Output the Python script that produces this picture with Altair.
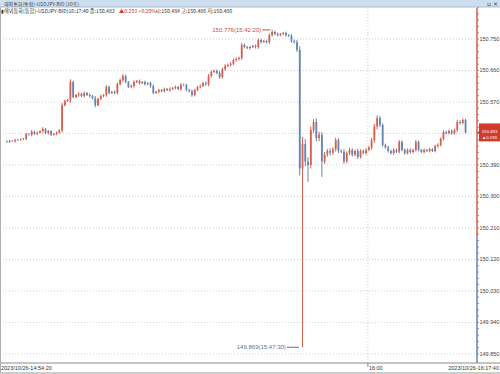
import altair as alt
import pandas as pd

# ---------------- data ----------------
CANDLE_SECONDS = list(range(20, 5001, 30))  # seconds after 14:54:20
CLOSES = [
    150.456, 150.459, 150.458, 150.461, 150.462, 150.463, 150.465, 150.478, 150.477, 150.485,
    150.479, 150.482, 150.487, 150.493, 150.481, 150.486, 150.476, 150.479, 150.482, 150.489,
    150.561, 150.573, 150.576, 150.627, 150.584, 150.590, 150.593, 150.587, 150.596, 150.590,
    150.587, 150.581, 150.561, 150.579, 150.587, 150.590, 150.613, 150.596, 150.599, 150.596,
    150.621, 150.633, 150.644, 150.627, 150.613, 150.616, 150.627, 150.630, 150.624, 150.627,
    150.621, 150.624, 150.616, 150.596, 150.599, 150.604, 150.601, 150.607, 150.604, 150.607,
    150.610, 150.613, 150.607, 150.619, 150.619, 150.604, 150.601, 150.590, 150.604, 150.613,
    150.616, 150.624, 150.621, 150.644, 150.656, 150.659, 150.653, 150.641, 150.664, 150.673,
    150.676, 150.679, 150.690, 150.693, 150.696, 150.733, 150.727, 150.724, 150.727, 150.730,
    150.727, 150.747, 150.741, 150.744, 150.741, 150.761, 150.770, 150.764, 150.761, 150.764,
    150.767, 150.761, 150.759, 150.744, 150.741, 150.719, 150.380, 150.450, 150.400, 150.390,
    150.490, 150.513, 150.467, 150.476, 150.400, 150.420, 150.430, 150.425, 150.435, 150.461,
    150.430, 150.428, 150.400, 150.424, 150.433, 150.419, 150.430, 150.413, 150.430, 150.424,
    150.433, 150.440, 150.461, 150.500, 150.524, 150.504, 150.447, 150.440, 150.430, 150.424,
    150.433, 150.428, 150.456, 150.433, 150.424, 150.433, 150.427, 150.433, 150.456, 150.433,
    150.427, 150.433, 150.430, 150.435, 150.430, 150.444, 150.447, 150.465, 150.484, 150.481,
    150.487, 150.481, 150.490, 150.513, 150.510, 150.519, 150.483,
]
FIRST_OPEN = 150.458
# estimated wick length beyond the candle body, per candle
WICKS = [
    0.002, 0.003, 0.002, 0.004, 0.002, 0.003, 0.002, 0.004, 0.003, 0.005,
    0.003, 0.004, 0.002, 0.005, 0.003, 0.004, 0.003, 0.002, 0.004, 0.003,
    0.006, 0.004, 0.003, 0.008, 0.004, 0.003, 0.005, 0.003, 0.004, 0.003,
    0.005, 0.004, 0.006, 0.003, 0.004, 0.003, 0.005, 0.004, 0.003, 0.004,
    0.005, 0.004, 0.006, 0.004, 0.003, 0.004, 0.005, 0.003, 0.004, 0.003,
    0.004, 0.003, 0.005, 0.004, 0.003, 0.004, 0.003, 0.004, 0.003, 0.005,
    0.003, 0.004, 0.003, 0.005, 0.004, 0.003, 0.004, 0.005, 0.004, 0.003,
    0.004, 0.003, 0.005, 0.006, 0.004, 0.003, 0.004, 0.005, 0.004, 0.005,
    0.004, 0.005, 0.004, 0.005, 0.004, 0.006, 0.004, 0.003, 0.004, 0.003,
    0.004, 0.005, 0.004, 0.003, 0.004, 0.005, 0.004, 0.003, 0.004, 0.003,
    0.003, 0.004, 0.003, 0.005, 0.004, 0.006, 0.010, 0.012, 0.014, 0.012,
    0.010, 0.008, 0.010, 0.009, 0.008, 0.007, 0.006, 0.008, 0.006, 0.007,
    0.006, 0.005, 0.007, 0.005, 0.006, 0.005, 0.004, 0.006, 0.005, 0.004,
    0.005, 0.004, 0.006, 0.007, 0.008, 0.006, 0.005, 0.004, 0.005, 0.004,
    0.005, 0.004, 0.005, 0.004, 0.005, 0.004, 0.005, 0.004, 0.005, 0.004,
    0.003, 0.004, 0.003, 0.004, 0.003, 0.004, 0.005, 0.004, 0.005, 0.004,
    0.004, 0.005, 0.004, 0.006, 0.005, 0.004, 0.003,
]
HIGH_OVERRIDES = {96: 150.776, 107: 150.470, 110: 150.500}
LOW_OVERRIDES = {106: 150.360, 107: 149.869, 109: 150.341, 114: 150.356}

PREV_CLOSE = 150.190
LAST_PRICE = 150.483
Y_MAJOR = [149.85, 149.94, 150.03, 150.12, 150.21, 150.30, 150.39, 150.48, 150.57, 150.66, 150.75]
Y_LABELED = [149.85, 149.94, 150.03, 150.12, 150.21, 150.30, 150.39, 150.57, 150.66, 150.75]
Y_MINOR = [round(149.85 + 0.018 * k, 3) for k in range(0, 56)]
Y_DOMAIN = [149.824, 150.8386]
X_DOMAIN = [0, 5070]
T_1600 = 3940
MAX_T, MAX_V, MAX_LABEL = 2880, 150.776, "150.776(15:42:20)"
MIN_T, MIN_V, MIN_LABEL = 3190, 149.869, "149.869(15:47:30)"
X_LABEL_START = "2023/10/26-14:54:20"
X_LABEL_MID = "16:00"
X_LABEL_END = "2023/10/26-16:17:40"
WINDOW_TITLE = "해외통화(통합)-USDJPY-BID (10초)"
INFO_1 = "▮해외통화(통합)-USDJPY-BID)16:17:40 종:150.483"
INFO_2 = "▲0.293  +0.20%"
INFO_3 = "시:150.484 고:150.486 저:150.480"
PRICE_BOX = ["150.483", "▲0.293", "+0.20%"]

RED = "#d4604e"
BLUE = "#6585b0"
W, H = 477, 355
FONT = "Liberation Sans"
KFONT = "Noto Sans CJK KR"

rows = []
prev = FIRST_OPEN
for i, (t, c, w) in enumerate(zip(CANDLE_SECONDS, CLOSES, WICKS)):
    o = prev
    hi = HIGH_OVERRIDES.get(i, max(o, c) + w)
    lo = LOW_OVERRIDES.get(i, min(o, c) - w)
    rows.append({"t": t, "open": o, "close": c, "high": hi, "low": lo,
                 "dir": "up" if c >= o else "down"})
    prev = c
df = pd.DataFrame(rows)

xs = alt.Scale(domain=X_DOMAIN, nice=False, zero=False)
ys = alt.Scale(domain=Y_DOMAIN, nice=False, zero=False)
cs = alt.Scale(domain=["up", "down"], range=[RED, BLUE])

grid = alt.Chart(pd.DataFrame({"v": Y_MAJOR})).mark_rule(
    color="#cfcfcf", strokeDash=[1, 2], strokeWidth=1
).encode(y=alt.Y("v:Q", scale=ys, axis=None), x=alt.value(0), x2=alt.value(W))

ylabels = alt.Chart(pd.DataFrame({"v": Y_LABELED})).mark_text(
    align="left", baseline="middle", font=FONT, fontSize=5.5, color="#444"
).encode(y=alt.Y("v:Q", scale=ys, axis=None), x=alt.value(W + 2.5),
         text=alt.Text("v:Q", format=".3f"))

minor = alt.Chart(pd.DataFrame({"v": Y_MINOR})).mark_rule(
    color="#9a9a9a", strokeWidth=1
).encode(y=alt.Y("v:Q", scale=ys, axis=None), x=alt.value(W), x2=alt.value(W + 2))

vgrid = alt.Chart(pd.DataFrame({"t": [T_1600]})).mark_rule(
    color="#cfcfcf", strokeDash=[1, 2]
).encode(x=alt.X("t:Q", scale=xs, axis=None), y=alt.value(0), y2=alt.value(H))

wicks = alt.Chart(df).mark_rule(strokeWidth=1).encode(
    x=alt.X("t:Q", scale=xs, axis=None),
    y=alt.Y("low:Q", scale=ys, axis=None),
    y2="high:Q",
    color=alt.Color("dir:N", scale=cs, legend=None),
)
bodies = alt.Chart(df).mark_bar(size=1.8).encode(
    x=alt.X("t:Q", scale=xs, axis=None),
    y=alt.Y("open:Q", scale=ys, axis=None),
    y2="close:Q",
    color=alt.Color("dir:N", scale=cs, legend=None),
)

axis_line = alt.Chart(pd.DataFrame({
    "lo": [PREV_CLOSE, Y_DOMAIN[0]], "hi": [Y_DOMAIN[1], PREV_CLOSE], "dir": ["up", "down"]
})).mark_rule(strokeWidth=1.5).encode(
    x=alt.value(W), y=alt.Y("lo:Q", scale=ys, axis=None), y2="hi:Q",
    color=alt.Color("dir:N", scale=cs, legend=None),
)

xline = alt.Chart(pd.DataFrame({"a": [0]})).mark_rule(color="#8a8a8a").encode(
    x=alt.value(0), x2=alt.value(500), y=alt.value(H))
bottom_line = alt.Chart(pd.DataFrame({"a": [0]})).mark_rule(color="#9a9a9a").encode(
    x=alt.value(0), x2=alt.value(500), y=alt.value(H + 10))
left_line = alt.Chart(pd.DataFrame({"a": [0]})).mark_rule(color="#b0b0b0").encode(
    x=alt.value(0.5), y=alt.value(-8), y2=alt.value(H + 10))
mid_tick = alt.Chart(pd.DataFrame({"t": [T_1600]})).mark_rule(color="#8a8a8a").encode(
    x=alt.X("t:Q", scale=xs, axis=None), y=alt.value(H), y2=alt.value(H + 4))

xl1 = alt.Chart(pd.DataFrame({"s": [X_LABEL_START]})).mark_text(
    align="left", baseline="middle", font=FONT, fontSize=5.5, color="#333"
).encode(x=alt.value(1), y=alt.value(H + 5), text="s:N")
xl2 = alt.Chart(pd.DataFrame({"t": [T_1600], "s": [X_LABEL_MID]})).mark_text(
    align="left", baseline="middle", font=FONT, fontSize=5.5, color="#333", dx=1
).encode(x=alt.X("t:Q", scale=xs, axis=None), y=alt.value(H + 5), text="s:N")
xl3 = alt.Chart(pd.DataFrame({"s": [X_LABEL_END]})).mark_text(
    align="right", baseline="middle", font=FONT, fontSize=5.5, color="#333"
).encode(x=alt.value(499), y=alt.value(H + 5), text="s:N")

# annotations
ann_max = pd.DataFrame({"t": [MAX_T], "v": [MAX_V], "s": [MAX_LABEL]})
ann_min = pd.DataFrame({"t": [MIN_T], "v": [MIN_V], "s": [MIN_LABEL]})
max_line = alt.Chart(ann_max).mark_rule(color="#c0504d", xOffset=-8).encode(
    x=alt.X("t:Q", scale=xs, axis=None), x2="t:Q", y=alt.Y("v:Q", scale=ys, axis=None))
max_text = alt.Chart(ann_max).mark_text(
    align="right", baseline="middle", dx=-9, font=FONT, fontSize=6, color="#c0504d"
).encode(x=alt.X("t:Q", scale=xs, axis=None), y=alt.Y("v:Q", scale=ys, axis=None), text="s:N")
min_line = alt.Chart(ann_min).mark_rule(color="#5a7396", xOffset=-12).encode(
    x=alt.X("t:Q", scale=xs, axis=None), x2="t:Q", y=alt.Y("v:Q", scale=ys, axis=None))
min_text = alt.Chart(ann_min).mark_text(
    align="right", baseline="middle", dx=-13, font=FONT, fontSize=6, color="#5a7396"
).encode(x=alt.X("t:Q", scale=xs, axis=None), y=alt.Y("v:Q", scale=ys, axis=None), text="s:N")

# price box
pb = pd.DataFrame({"v": [LAST_PRICE], "s": [PRICE_BOX]})
box = alt.Chart(pb).mark_rect(color="#d23c2c", width=21, height=18).encode(
    x=alt.value(489.5), y=alt.Y("v:Q", scale=ys, axis=None))
arrow = alt.Chart(pb).mark_point(shape="triangle-left", filled=True, size=30,
                                 color="#d23c2c", opacity=1).encode(
    x=alt.value(479), y=alt.Y("v:Q", scale=ys, axis=None))
box_text = alt.Chart(pb).mark_text(
    align="center", baseline="middle", font=FONT, fontSize=4.3, color="white", lineHeight=5.6
).encode(x=alt.value(489.5), y=alt.Y("v:Q", scale=ys, axis=None), text="s")

# header
title_bg = alt.Chart(pd.DataFrame({"a": [0]})).mark_rect(color="#cddfee").encode(
    x=alt.value(0), x2=alt.value(500), y=alt.value(-8), y2=alt.value(-1))
title_sep = alt.Chart(pd.DataFrame({"a": [0]})).mark_rule(color="#a9bfd2").encode(
    x=alt.value(0), x2=alt.value(500), y=alt.value(-1))
title_txt = alt.Chart(pd.DataFrame({"s": [WINDOW_TITLE]})).mark_text(
    align="left", baseline="middle", font=KFONT, fontSize=5, color="#444"
).encode(x=alt.value(4), y=alt.value(-4.5), text="s:N")
icons = alt.Chart(pd.DataFrame({"s": ["▫ ×"]})).mark_text(
    align="right", baseline="middle", font="DejaVu Sans", fontSize=6, color="#333"
).encode(x=alt.value(498), y=alt.value(-4.5), text="s:N")
info1 = alt.Chart(pd.DataFrame({"s": [INFO_1]})).mark_text(
    align="left", baseline="middle", font=KFONT, fontSize=5.2, color="#333"
).encode(x=alt.value(1), y=alt.value(2.5), text="s:N")
info2 = alt.Chart(pd.DataFrame({"s": [INFO_2]})).mark_text(
    align="left", baseline="middle", font=KFONT, fontSize=5.2, color="#d23c2c"
).encode(x=alt.value(119), y=alt.value(2.5), text="s:N")
info3 = alt.Chart(pd.DataFrame({"s": [INFO_3]})).mark_text(
    align="left", baseline="middle", font=KFONT, fontSize=5.2, color="#333"
).encode(x=alt.value(155), y=alt.value(2.5), text="s:N")

chart = alt.layer(
    grid, minor, ylabels, vgrid, wicks, bodies, axis_line, xline, bottom_line, left_line,
    mid_tick, xl1, xl2, xl3, max_line, max_text, min_line, min_text,
    box, arrow, box_text, title_bg, title_sep, title_txt, icons, info1, info2, info3,
).properties(
    width=W, height=H,
    autosize=alt.AutoSizeParams(type="none"),
    padding={"left": 0, "top": 8, "right": 23, "bottom": 11},
    background="white",
).configure_view(stroke=None)

chart.save("out.html", embed_options={"renderer": "svg", "actions": False})
